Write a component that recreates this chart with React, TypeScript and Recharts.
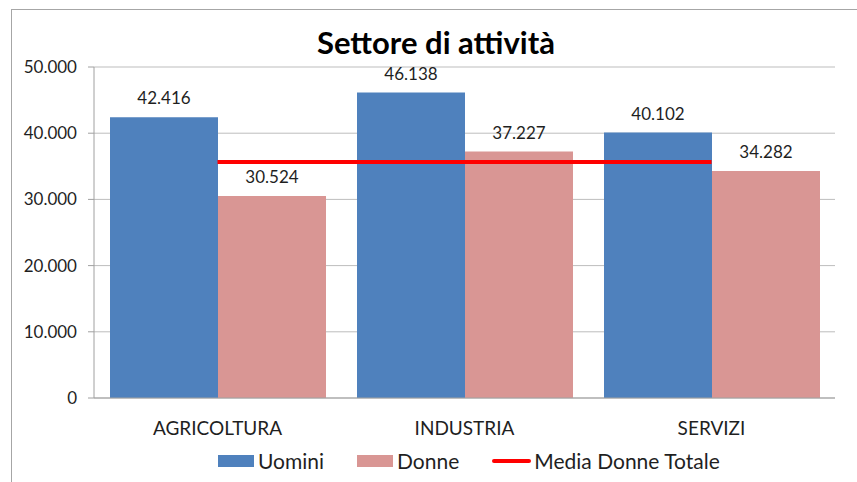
import React from 'react';
import { ComposedChart, Bar, Line, XAxis, YAxis, CartesianGrid, Legend, LabelList } from 'recharts';

const categories = ['AGRICOLTURA', 'INDUSTRIA', 'SERVIZI'];
const uomini = [42416, 46138, 40102];
const donne = [30524, 37227, 34282];
const mediaDonneTotale = [35650, 35650, 35650];
const yTicks = [0, 10000, 20000, 30000, 40000, 50000];
const boundaryTicks = [0, 1, 2, 3];
const seriesNames = { uomini: 'Uomini', donne: 'Donne', media: 'Media Donne Totale' };
const legendOrder = [seriesNames.uomini, seriesNames.donne, seriesNames.media];

const data = categories.map((c, i) => ({
  name: c,
  uomini: uomini[i],
  donne: donne[i],
  media: mediaDonneTotale[i],
}));

const fmt = (v: any) => String(v).replace(/\B(?=(\d{3})+(?!\d))/g, '.');

const FONT = 'Lato, "Open Sans", sans-serif';
const TEXT = '#1f1f1f';
const GRID = '#bdbdbd';
const AXIS = '#a0a0a0';

const NoTick = () => <g />;

const LegendContent = (props: any) => {
  const payload = [...(props.payload || [])].sort(
    (a: any, b: any) => legendOrder.indexOf(a.value) - legendOrder.indexOf(b.value)
  );
  return (
    <div
      style={{
        height: 24,
        display: 'flex',
        alignItems: 'center',
        paddingLeft: 218,
        fontFamily: FONT,
        fontSize: 21,
        color: TEXT,
        lineHeight: '24px',
        whiteSpace: 'nowrap',
      }}
    >
      {payload.map((entry: any, i: number) => (
        <div key={i} style={{ display: 'flex', alignItems: 'center', marginRight: i < payload.length - 1 ? 33 : 0 }}>
          {entry.type === 'line' ? (
            <div style={{ width: 39, height: 4, background: entry.color, marginRight: 3, borderRadius: 2 }} />
          ) : (
            <div style={{ width: 36, height: 12, background: entry.color, marginRight: 4 }} />
          )}
          <span>{entry.value}</span>
        </div>
      ))}
    </div>
  );
};

export default function App() {
  return (
    <div style={{ position: 'fixed', left: 0, top: 0, width: 857, height: 482, background: '#fff', overflow: 'hidden' }}>
      <div
        style={{
          position: 'absolute',
          left: 11,
          top: 9,
          width: 846,
          height: 473,
          borderTop: '1px solid #a6a6a6',
          borderLeft: '1px solid #a6a6a6',
          boxSizing: 'border-box',
        }}
      />
      <div
        style={{
          position: 'absolute',
          left: 0,
          top: 27,
          width: 857,
          paddingLeft: 15,
          boxSizing: 'border-box',
          textAlign: 'center',
          fontFamily: FONT,
          fontWeight: 700,
          fontSize: 31,
          lineHeight: '31px',
          color: '#000',
        }}
      >
        Settore di attività
      </div>
      <div style={{ position: 'absolute', left: 0, top: 0 }}>
        <ComposedChart
          width={857}
          height={482}
          data={data}
          margin={{ top: 67, right: 22, bottom: 9, left: 0 }}
          barCategoryGap={16}
          barGap={0}
        >
          <CartesianGrid horizontal vertical={false} stroke={GRID} />
          <XAxis
            xAxisId="bounds"
            type="number"
            domain={[0, 3]}
            ticks={boundaryTicks}
            allowDataOverflow
            height={0}
            axisLine={false}
            tickLine={{ stroke: AXIS }}
            tickSize={7}
            tick={NoTick}
          />
          <XAxis
            dataKey="name"
            height={51}
            axisLine={{ stroke: AXIS }}
            tickLine={false}
            tickSize={0}
            tickMargin={24}
            tick={{ fontFamily: FONT, fontSize: 19, fill: TEXT }}
            interval={0}
          />
          <YAxis
            width={94}
            domain={[0, 50000]}
            ticks={yTicks}
            tickFormatter={fmt}
            axisLine={{ stroke: AXIS }}
            tickLine={{ stroke: AXIS }}
            tickSize={6}
            tickMargin={11}
            tick={{ fontFamily: FONT, fontSize: 17, fill: TEXT }}
          />
          <Legend verticalAlign="bottom" content={<LegendContent />} />
          <Bar dataKey="uomini" name={seriesNames.uomini} fill="#4F81BD" isAnimationActive={false}>
            <LabelList dataKey="uomini" position="top" offset={13} formatter={fmt} style={{ fontFamily: FONT, fontSize: 17, fill: TEXT }} />
          </Bar>
          <Bar dataKey="donne" name={seriesNames.donne} fill="#D99694" isAnimationActive={false}>
            <LabelList dataKey="donne" position="top" offset={13} formatter={fmt} style={{ fontFamily: FONT, fontSize: 17, fill: TEXT }} />
          </Bar>
          <Line
            dataKey="media"
            name={seriesNames.media}
            type="linear"
            stroke="#FF0000"
            strokeWidth={4}
            dot={false}
            activeDot={false}
            legendType="line"
            isAnimationActive={false}
          />
        </ComposedChart>
      </div>
    </div>
  );
}
